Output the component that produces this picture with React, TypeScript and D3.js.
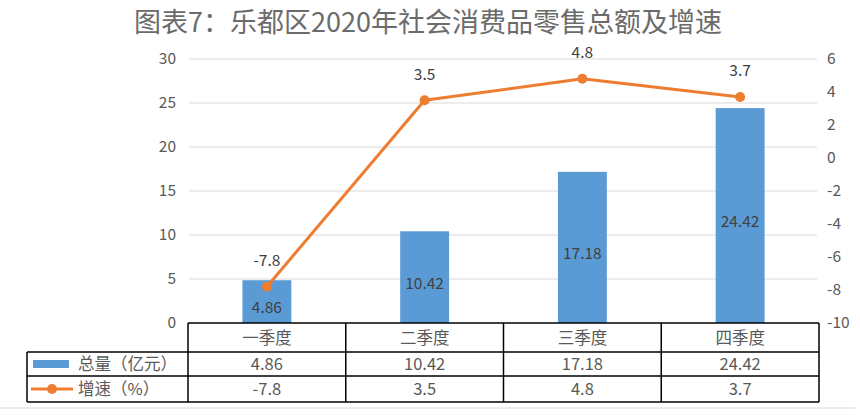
import React from 'react';
import * as d3 from 'd3';

const categories = ['一季度', '二季度', '三季度', '四季度'];
const totals = [4.86, 10.42, 17.18, 24.42];
const growth = [-7.8, 3.5, 4.8, 3.7];
const leftTicks = [0, 5, 10, 15, 20, 25, 30];
const rightTicks = [-10, -8, -6, -4, -2, 0, 2, 4, 6];
const seriesNames = ['总量（亿元）', '增速（%）'];
const title = '图表7：乐都区2020年社会消费品零售总额及增速';

const W = 860;
const H = 415;
const left = 188;
const right = 819;
const top = 59;
const bottom = 323;
const rowTops = [323, 352, 376, 402];
const legendLeft = 27;

const font = '"Noto Sans CJK SC", "Microsoft YaHei", sans-serif';
const textColor = '#595959';
const barColor = '#5B9BD5';
const lineColor = '#ED7D31';

const App = () => {
  const x = d3
    .scaleBand<string>()
    .domain(categories)
    .range([left, right])
    .paddingInner(0.69)
    .paddingOuter(0.345);
  const yL = d3.scaleLinear().domain([0, 30]).range([bottom, top]);
  const yR = d3.scaleLinear().domain([-10, 6]).range([bottom, top]);
  const step = x.step();
  const cx = (c: string) => (x(c) as number) + x.bandwidth() / 2;

  const line = d3
    .line<number>()
    .x((_, i) => cx(categories[i]))
    .y(d => yR(d));

  const colEdges = categories.map(c => cx(c) - step / 2).concat([right]);
  const mid1 = (rowTops[1] + rowTops[2]) / 2;
  const mid2 = (rowTops[2] + rowTops[3]) / 2;

  return (
    <div style={{ position: 'absolute', left: 0, top: 0 }}>
      <svg width={W} height={H} style={{ display: 'block', fontFamily: font }}>
        <rect width={W} height={H} fill="#fff" />
        <text x={428} y={32} textAnchor="middle" fontSize={27} fill="#6b6b6b">
          {title}
        </text>

        {leftTicks.map(t => (
          <g key={'l' + t}>
            {t > 0 && (
              <line x1={left + 1} x2={right - 2} y1={yL(t)} y2={yL(t)} stroke="#d9d9d9" strokeWidth={1} />
            )}
            <text x={176} y={yL(t)} dy="0.35em" textAnchor="end" fontSize={15.5} fill={textColor}>
              {t}
            </text>
          </g>
        ))}
        {rightTicks.map(t => (
          <text key={'r' + t} x={827} y={yR(t)} dy="0.35em" textAnchor="start" fontSize={15.5} fill={textColor}>
            {t}
          </text>
        ))}

        {categories.map((c, i) => (
          <rect
            key={'b' + c}
            x={x(c)}
            y={yL(totals[i])}
            width={x.bandwidth()}
            height={bottom - yL(totals[i])}
            fill={barColor}
          />
        ))}

        <path d={line(growth) || ''} fill="none" stroke={lineColor} strokeWidth={3} strokeLinejoin="round" />
        {growth.map((g, i) => (
          <circle key={'p' + i} cx={cx(categories[i])} cy={yR(g)} r={5} fill={lineColor} />
        ))}

        {categories.map((c, i) => (
          <text
            key={'bl' + c}
            x={cx(c)}
            y={(yL(totals[i]) + bottom) / 2 + 6}
            dy="0.35em"
            textAnchor="middle"
            fontSize={15.5}
            fill="#404040"
          >
            {totals[i]}
          </text>
        ))}
        {growth.map((g, i) => (
          <text
            key={'gl' + i}
            x={cx(categories[i])}
            y={yR(g) - 26}
            dy="0.35em"
            textAnchor="middle"
            fontSize={15.5}
            fill="#404040"
          >
            {g}
          </text>
        ))}

        {/* data table */}
        <g stroke="#000" strokeWidth={1.5} fill="none">
          <line x1={left} x2={right} y1={rowTops[0]} y2={rowTops[0]} />
          <line x1={legendLeft} x2={right} y1={rowTops[1]} y2={rowTops[1]} />
          <line x1={legendLeft} x2={right} y1={rowTops[2]} y2={rowTops[2]} />
          <line x1={legendLeft} x2={right} y1={rowTops[3]} y2={rowTops[3]} />
          <line x1={legendLeft} x2={legendLeft} y1={rowTops[1]} y2={rowTops[3]} />
          {colEdges.map((e, i) => (
            <line key={'ce' + i} x1={e} x2={e} y1={rowTops[0]} y2={rowTops[3]} />
          ))}
        </g>
        {categories.map((c, i) => (
          <g key={'t' + c} fontSize={16.5} fill={textColor} textAnchor="middle">
            <text x={cx(c)} y={(rowTops[0] + rowTops[1]) / 2 + 1} dy="0.35em">
              {c}
            </text>
            <text x={cx(c)} y={mid1} dy="0.35em">
              {totals[i]}
            </text>
            <text x={cx(c)} y={mid2} dy="0.35em">
              {growth[i]}
            </text>
          </g>
        ))}

        <rect x={33} y={mid1 - 4} width={36} height={8} fill={barColor} />
        <text x={78} y={mid1} dy="0.35em" fontSize={16.5} fill={textColor}>
          {seriesNames[0]}
        </text>
        <line x1={31} x2={73} y1={mid2} y2={mid2} stroke={lineColor} strokeWidth={3} />
        <circle cx={52} cy={mid2} r={5} fill={lineColor} />
        <text x={78} y={mid2} dy="0.35em" fontSize={16.5} fill={textColor}>
          {seriesNames[1]}
        </text>

        <line x1={0} x2={855} y1={408} y2={408} stroke="#d9d9d9" strokeWidth={1} />
      </svg>
    </div>
  );
};

export default App;
